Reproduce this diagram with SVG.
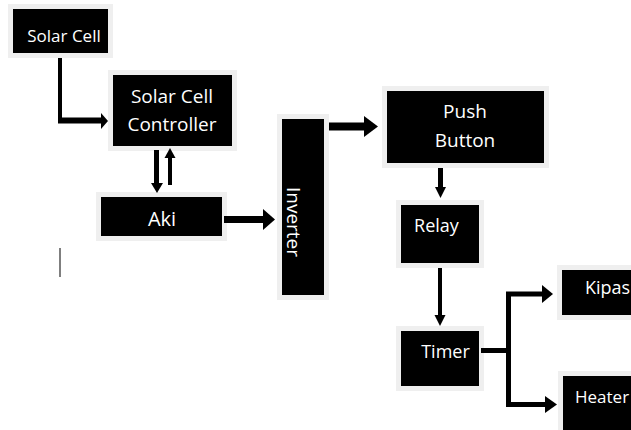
<svg xmlns="http://www.w3.org/2000/svg" width="631" height="430" viewBox="0 0 631 430">
<style>
.box{fill:#000;stroke:#efefef;stroke-width:5}
.lbl{fill:#fff;font-family:"Open Sans","Liberation Sans",sans-serif;font-size:18px;text-anchor:middle}
.ln{stroke:#000;fill:none;stroke-linejoin:miter}
.hd{fill:#000}
</style>
<rect width="631" height="430" fill="#fff"/>
<g id="solar-cell">
<rect class="box" x="10.5" y="6.5" width="100" height="49"/>
<text class="lbl" x="64" y="42" style="font-size:17px">Solar Cell</text>
</g>
<g id="controller">
<rect class="box" x="110.5" y="72.5" width="124" height="76"/>
<text class="lbl" x="172" y="103" style="font-size:19px">Solar Cell</text>
<text class="lbl" x="172" y="131" style="font-size:19px">Controller</text>
</g>
<g id="aki">
<rect class="box" x="98.5" y="194.5" width="126" height="44"/>
<text class="lbl" x="162" y="226" style="font-size:20px">Aki</text>
</g>
<g id="inverter">
<rect class="box" x="279.5" y="116.5" width="47" height="181"/>
<text class="lbl" transform="translate(287,222) rotate(90)" x="0" y="0" style="font-size:19px">Inverter</text>
</g>
<g id="push-button">
<rect class="box" x="384.5" y="88.5" width="162" height="77"/>
<text class="lbl" x="465" y="118" style="font-size:19px">Push</text>
<text class="lbl" x="465" y="147" style="font-size:19px">Button</text>
</g>
<g id="relay">
<rect class="box" x="398.5" y="202.5" width="83" height="63"/>
<text class="lbl" x="436.5" y="232">Relay</text>
</g>
<g id="timer">
<rect class="box" x="398.5" y="328.5" width="83" height="60"/>
<text class="lbl" x="445.5" y="358">Timer</text>
</g>
<g id="kipas">
<rect class="box" x="559.5" y="267.5" width="90" height="50"/>
<text class="lbl" x="585" y="294" style="text-anchor:start">Kipas</text>
</g>
<g id="heater">
<rect class="box" x="560.5" y="373.5" width="90" height="70"/>
<text class="lbl" x="575" y="403" style="text-anchor:start;font-size:17px">Heater</text>
</g>
<g id="connectors">
<path class="ln" d="M60,58 V120.5" stroke-width="4"/>
<path class="ln" d="M58,120.5 H102" stroke-width="6"/>
<polygon class="hd" points="101,113 108,121 101,129"/>
<path class="ln" d="M156.5,150 V184" stroke-width="5"/>
<polygon class="hd" points="151,183 163,183 157,193"/>
<path class="ln" d="M170,185 V157" stroke-width="4"/>
<polygon class="hd" points="164.5,158 175.5,158 170,148"/>
<path class="ln" d="M224,219.5 H264" stroke-width="7"/>
<polygon class="hd" points="263,209 275,219.5 263,230"/>
<path class="ln" d="M329,126.5 H365" stroke-width="8"/>
<polygon class="hd" points="364,116 378,126.5 364,137"/>
<path class="ln" d="M440.5,168 V188" stroke-width="5"/>
<polygon class="hd" points="435,187 446,187 440.5,198"/>
<path class="ln" d="M440,268 V316" stroke-width="4"/>
<polygon class="hd" points="434.5,315 445.5,315 440,326"/>
<path class="ln" d="M481,350.5 H511" stroke-width="5"/>
<path class="ln" d="M543,294 H508.5 V404.5 H546" stroke-width="5"/>
<polygon class="hd" points="542,285 553,294 542,303"/>
<polygon class="hd" points="545,396 557,404.5 545,413"/>
</g>
<line x1="60" y1="248" x2="60" y2="277" stroke="#555" stroke-width="1.5"/>
</svg>
